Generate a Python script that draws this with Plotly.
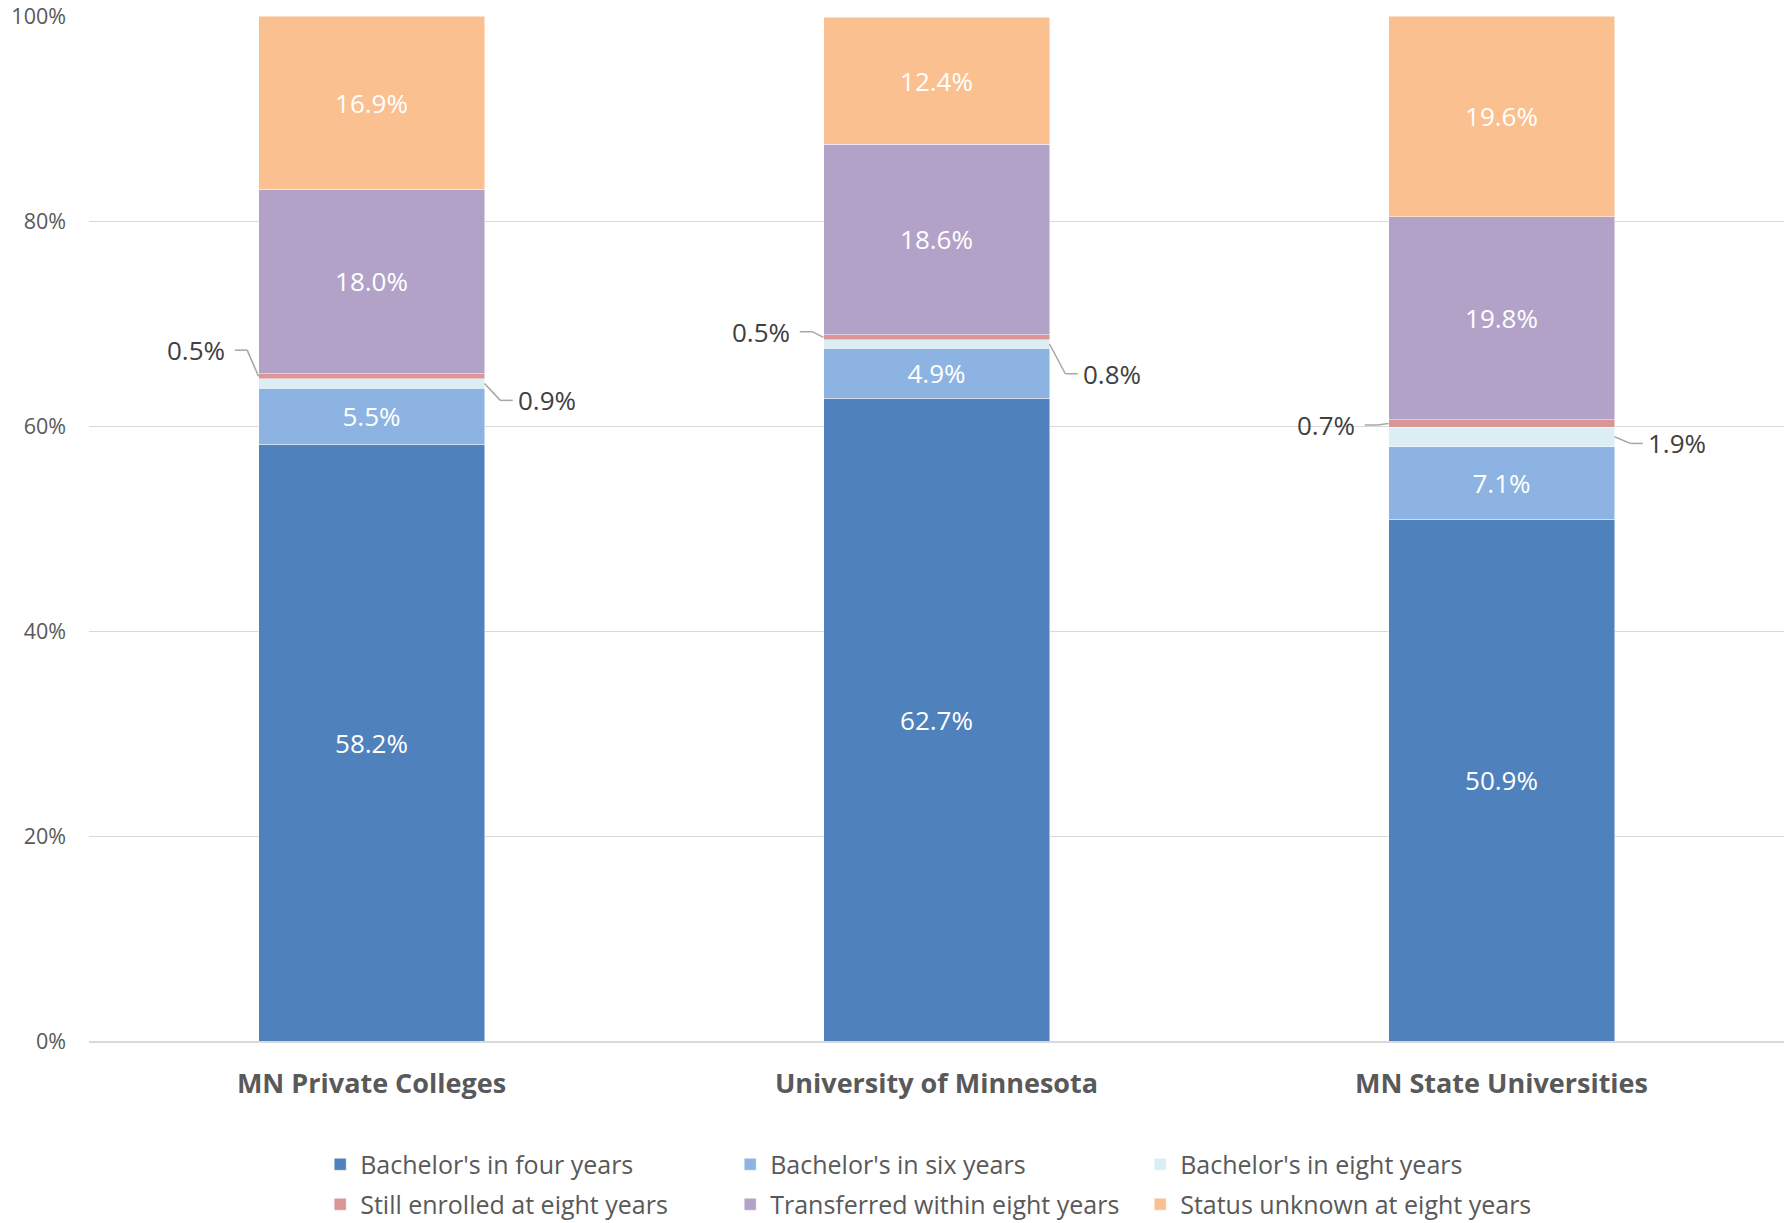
import plotly.graph_objects as go

categories = ["MN Private Colleges", "University of Minnesota", "MN State Universities"]
series_names = [
    "Bachelor's in four years",
    "Bachelor's in six years",
    "Bachelor's in eight years",
    "Still enrolled at eight years",
    "Transferred within eight years",
    "Status unknown at eight years",
]
four_years = [58.2, 62.7, 50.9]
six_years = [5.5, 4.9, 7.1]
eight_years = [0.9, 0.8, 1.9]
still_enrolled = [0.5, 0.5, 0.7]
transferred = [18.0, 18.6, 19.8]
unknown = [16.9, 12.4, 19.6]

series_values = [four_years, six_years, eight_years, still_enrolled, transferred, unknown]
colors = ["#4f81bd", "#8db3e2", "#dbeef3", "#d99694", "#b3a2c7", "#fac08f"]
tick_vals = [0, 20, 40, 60, 80, 100]
tick_labels = ["0%", "20%", "40%", "60%", "80%", "100%"]

# callout styling: which series get outside labels, side, and vertical shift (pp)
callout_left_series = 3   # still enrolled -> left
callout_right_series = 2  # eight years -> right
left_dy = [2.55, 0.55, -0.15]
right_dy = [-1.65, -2.9, -0.65]
bar_half = 0.2
label_off = 0.31
elbow_off = 0.22
text_edge_off = 0.242

FONT = "Open Sans"

fig = go.Figure()
for k, (name, vals, col) in enumerate(zip(series_names, series_values, colors)):
    show_inside = k in (0, 1, 4, 5)
    fig.add_trace(go.Bar(
        name=name,
        x=categories,
        y=vals,
        marker=dict(color=col, line=dict(color="rgba(255,255,255,0.6)", width=0.8)),
        width=0.4,
        text=[f"{v:.1f}%" for v in vals] if show_inside else None,
        textposition="inside" if show_inside else "none",
        insidetextanchor="middle",
        textangle=0,
        insidetextfont=dict(color="white", size=26, family=FONT),
        hoverinfo="skip",
        legend="legend" if k < 3 else "legend2",
    ))

annotations = []
shapes = []
line_style = dict(color="#a6a6a6", width=1.5)
callout_font = dict(size=26, color="#404040", family=FONT)
for i in range(len(categories)):
    cum = [0]
    for s in series_values:
        cum.append(cum[-1] + s[i])
    # left callout
    ls = callout_left_series
    mid = (cum[ls] + cum[ls + 1]) / 2
    ly = mid + left_dy[i]
    annotations.append(dict(x=i - label_off, y=ly, xref="x", yref="y",
                            text=f"{series_values[ls][i]:.1f}%", showarrow=False,
                            font=callout_font))
    shapes.append(dict(type="line", xref="x", yref="y", x0=i - text_edge_off, y0=ly,
                       x1=i - elbow_off, y1=ly, line=line_style))
    shapes.append(dict(type="line", xref="x", yref="y", x0=i - elbow_off, y0=ly,
                       x1=i - bar_half, y1=mid, line=line_style))
    # right callout
    rs = callout_right_series
    mid = (cum[rs] + cum[rs + 1]) / 2
    ry = mid + right_dy[i]
    annotations.append(dict(x=i + label_off, y=ry, xref="x", yref="y",
                            text=f"{series_values[rs][i]:.1f}%", showarrow=False,
                            font=callout_font))
    shapes.append(dict(type="line", xref="x", yref="y", x0=i + bar_half, y0=mid,
                       x1=i + elbow_off + 0.008, y1=ry, line=line_style))
    shapes.append(dict(type="line", xref="x", yref="y", x0=i + elbow_off + 0.008, y0=ry,
                       x1=i + text_edge_off + 0.008, y1=ry, line=line_style))

legend_common = dict(
    orientation="h", xref="paper", yref="paper", xanchor="left", yanchor="middle",
    font=dict(size=25, color="#595959", family=FONT),
    entrywidth=365, entrywidthmode="pixels", traceorder="normal",
    bgcolor="rgba(0,0,0,0)", itemclick=False, itemdoubleclick=False,
)

fig.update_layout(
    width=1784, height=1223,
    paper_bgcolor="white", plot_bgcolor="white",
    margin=dict(l=89, r=0, t=16, b=182, autoexpand=False),
    barmode="stack",
    bargap=0.6,
    font=dict(family=FONT, color="#595959"),
    xaxis=dict(
        type="category", range=[-0.5, 2.5],
        tickfont=dict(size=27, color="#595959", family=FONT, weight="bold"),
        showgrid=False, ticks="", ticklabelstandoff=18,
        showline=True, linecolor="#d9d9d9", linewidth=1.5,
    ),
    yaxis=dict(
        range=[0, 100], tickvals=tick_vals, ticktext=tick_labels,
        tickfont=dict(size=21.5, color="#595959", family=FONT),
        showgrid=True, gridcolor="#d9d9d9", gridwidth=1.2,
        zeroline=False, ticks="", ticklabelstandoff=22,
        ticklabeloverflow="allow",
    ),
    legend=dict(x=0.1364, y=-0.1205, **legend_common),
    legend2=dict(x=0.1364, y=-0.1595, **legend_common),
    annotations=annotations,
    shapes=shapes,
    showlegend=True,
)

fig.write_html(
    "out.html",
    config={"displayModeBar": False},
    post_script="document.body.style.margin='0';document.body.style.overflow='hidden';",
)
